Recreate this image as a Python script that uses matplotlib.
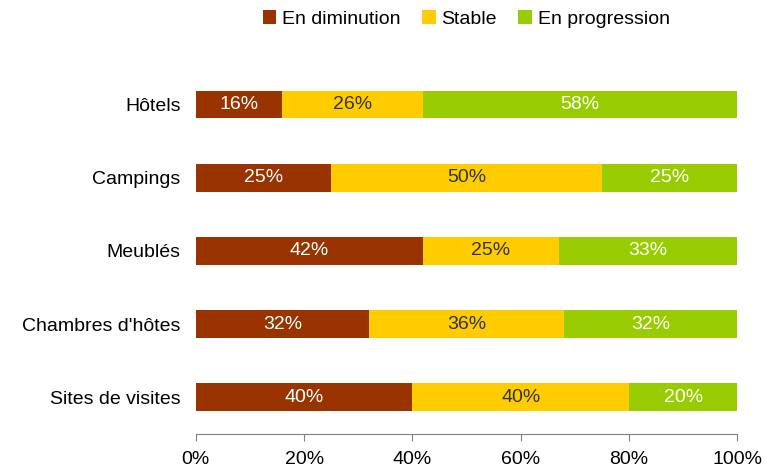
import numpy as np
import matplotlib
matplotlib.use('Agg')
import matplotlib.pyplot as plt

plt.rcParams['font.family'] = ['Liberation Sans', 'DejaVu Sans']

categories = ['Hôtels', 'Campings', 'Meublés', "Chambres d'hôtes", 'Sites de visites']
en_diminution = [16, 25, 42, 32, 40]
stable = [26, 50, 25, 36, 40]
en_progression = [58, 25, 33, 32, 20]

series = [
    ('En diminution', en_diminution, '#993300', 'white'),
    ('Stable', stable, '#FFCC00', '#333333'),
    ('En progression', en_progression, '#99CC00', 'white'),
]

fs = 14

fig = plt.figure(figsize=(7.68, 4.68), dpi=100)
ax = fig.add_axes([0.255, 0.0726, 0.705, 0.7824])

y = np.arange(len(categories))
left = np.zeros(len(categories))
for name, vals, color, tcolor in series:
    vals = np.array(vals, dtype=float)
    ax.barh(y, vals, left=left, height=0.38, color=color, label=name)
    for yi, l, v in zip(y, left, vals):
        ax.text(l + v / 2, yi, f'{int(v)}%', ha='center', va='center',
                color=tcolor, fontsize=fs)
    left += vals

ax.set_xlim(0, 100)
ax.set_ylim(len(categories) - 0.5, -0.5)
ax.set_yticks(y)
ax.set_yticklabels(categories, fontsize=fs)
ax.set_xticks(np.arange(0, 101, 20))
ax.set_xticklabels([f'{t}%' for t in range(0, 101, 20)], fontsize=fs)
ax.tick_params(axis='y', length=0, pad=11)
ax.tick_params(axis='x', length=5, color='#808080', pad=7)
for s in ['top', 'right', 'left']:
    ax.spines[s].set_visible(False)
ax.spines['bottom'].set_color('#808080')

fig.legend(loc='upper center', bbox_to_anchor=(0.607, 1.015), ncol=3, frameon=False,
           fontsize=fs, handlelength=0.7, handleheight=0.7, handletextpad=0.3,
           columnspacing=1.1)

fig.savefig('out.png', dpi=100)
